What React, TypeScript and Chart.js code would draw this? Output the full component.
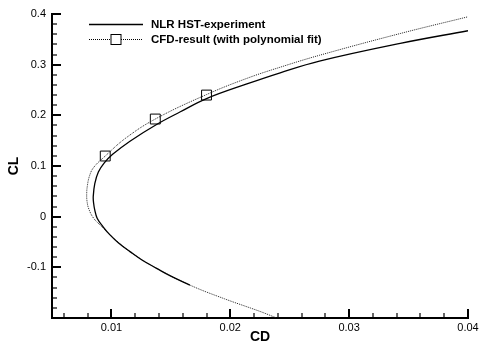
import React, { useEffect, useRef } from "react";
import { Chart, registerables } from "chart.js";

Chart.register(...registerables);

// NLR HST experiment (solid line)
const expCD = [0.0166, 0.0150, 0.0138, 0.0126, 0.01156, 0.0106, 0.00988, 0.0093, 0.0088, 0.0086, 0.0085, 0.00847, 0.0086, 0.0089, 0.0094, 0.0101, 0.01156, 0.0138, 0.0158, 0.0180, 0.0214, 0.0242, 0.0275, 0.0343, 0.0400];
const expCL = [-0.135, -0.1175, -0.102, -0.086, -0.069, -0.052, -0.036, -0.020, -0.003, 0.013, 0.027, 0.040, 0.065, 0.088, 0.106, 0.123, 0.149, 0.182, 0.207, 0.233, 0.262, 0.284, 0.307, 0.342, 0.367];

// CFD result with polynomial fit (dotted line)
const cfdCD = [0.0238, 0.0225, 0.0195, 0.0166, 0.0138, 0.01156, 0.00988, 0.0092, 0.0085, 0.0081, 0.00795, 0.00792, 0.00797, 0.00815, 0.0085, 0.00948, 0.0112, 0.01369, 0.0180, 0.0214, 0.0242, 0.0275, 0.0343, 0.0400];
const cfdCL = [-0.199, -0.187, -0.162, -0.135, -0.102, -0.069, -0.036, -0.020, -0.003, 0.015, 0.030, 0.045, 0.060, 0.080, 0.097, 0.1197, 0.155, 0.1927, 0.241, 0.273, 0.295, 0.3185, 0.3615, 0.3945];

// CFD computed points (square markers)
const cfdPointCD = [0.00948, 0.01369, 0.0180];
const cfdPointCL = [0.1197, 0.1927, 0.240];

const xTicks = [0.01, 0.02, 0.03, 0.04];
const xTickLabels = ["0.01", "0.02", "0.03", "0.04"];
const yTicks = [-0.1, 0, 0.1, 0.2, 0.3, 0.4];
const yTickLabels = ["-0.1", "0", "0.1", "0.2", "0.3", "0.4"];

const seriesNames = ["NLR HST-experiment", "CFD-result (with polynomial fit)"];
const xTitle = "CD";
const yTitle = "CL";

const FONT = '"Liberation Sans", Arial, Helvetica, sans-serif';

const toPoints = (xs: number[], ys: number[]) => xs.map((x, i) => ({ x, y: ys[i] }));

const axisTicksPlugin = {
  id: "axisTicks",
  afterDraw(chart: any) {
    const { ctx, chartArea } = chart;
    const xs = chart.scales.x;
    const ys = chart.scales.y;
    const { left, bottom } = chartArea;
    ctx.save();
    ctx.strokeStyle = "#000";
    const xMark = (v: number, len: number, w: number) => {
      const p = Math.round(xs.getPixelForValue(v));
      ctx.lineWidth = w;
      ctx.beginPath();
      ctx.moveTo(p, bottom);
      ctx.lineTo(p, bottom - len);
      ctx.stroke();
    };
    const yMark = (v: number, len: number, w: number) => {
      const p = Math.round(ys.getPixelForValue(v));
      ctx.lineWidth = w;
      ctx.beginPath();
      ctx.moveTo(left, p);
      ctx.lineTo(left + len, p);
      ctx.stroke();
    };
    const xStep = (xTicks[1] - xTicks[0]) / 5;
    for (let k = Math.ceil(xs.min / xStep - 1e-6); k <= Math.floor(xs.max / xStep + 1e-6); k++) {
      if (k % 5 !== 0) xMark(k * xStep, 5, 1.2);
    }
    xTicks.forEach((v) => xMark(v, 9, 2));
    const yStep = (yTicks[1] - yTicks[0]) / 5;
    for (let k = Math.ceil(ys.min / yStep - 1e-6); k <= Math.floor(ys.max / yStep + 1e-6); k++) {
      if (k % 5 !== 0) yMark(k * yStep, 5, 1.2);
    }
    yTicks.forEach((v) => yMark(v, 9, 2));
    ctx.restore();
  },
};

const legendPlugin = {
  id: "insideLegend",
  afterDraw(chart: any) {
    const { ctx } = chart;
    ctx.save();
    const x0 = 89;
    const x1 = 143;
    const tx = 151;
    const r1 = 24.5;
    const r2 = 39.5;
    ctx.strokeStyle = "#000";
    ctx.lineWidth = 1.3;
    ctx.beginPath();
    ctx.moveTo(x0, r1);
    ctx.lineTo(x1, r1);
    ctx.stroke();
    ctx.lineWidth = 1;
    ctx.setLineDash([1, 1]);
    ctx.beginPath();
    ctx.moveTo(x0, r2);
    ctx.lineTo(x1, r2);
    ctx.stroke();
    ctx.setLineDash([]);
    const cx = (x0 + x1) / 2;
    ctx.fillStyle = "#fff";
    ctx.fillRect(cx - 5, r2 - 5, 10, 10);
    ctx.strokeRect(cx - 5, r2 - 5, 10, 10);
    ctx.fillStyle = "#000";
    ctx.font = "bold 11.5px " + FONT;
    ctx.textBaseline = "middle";
    ctx.textAlign = "left";
    ctx.fillText(seriesNames[0], tx, r1);
    ctx.fillText(seriesNames[1], tx, r2);
    ctx.restore();
  },
};

export default function App() {
  const ref = useRef<HTMLCanvasElement | null>(null);

  useEffect(() => {
    if (!ref.current) return;
    const chart = new Chart(ref.current, {
      type: "scatter",
      data: {
        datasets: [
          {
            label: seriesNames[0],
            data: toPoints(expCD, expCL),
            showLine: true,
            borderColor: "#000",
            borderWidth: 1.3,
            pointRadius: 0,
            tension: 0.4,
            fill: false,
          },
          {
            label: seriesNames[1],
            data: toPoints(cfdCD, cfdCL),
            showLine: true,
            borderColor: "#222",
            borderWidth: 1,
            borderDash: [1, 1],
            pointRadius: 0,
            tension: 0.4,
            fill: false,
          },
          {
            label: seriesNames[1] + " points",
            data: toPoints(cfdPointCD, cfdPointCL),
            showLine: false,
            pointStyle: "rect",
            pointRadius: 7,
            pointBorderWidth: 1,
            pointBorderColor: "#000",
            pointBackgroundColor: "rgba(0,0,0,0)",
          },
        ],
      },
      options: {
        responsive: false,
        animation: false,
        devicePixelRatio: 1,
        layout: { padding: { left: 0, top: 14, right: 11, bottom: 0 } },
        plugins: {
          legend: { display: false },
          tooltip: { enabled: false },
        },
        scales: {
          x: {
            type: "linear",
            min: 0.005,
            max: 0.04,
            grid: { display: false, drawTicks: false, tickLength: 0 },
            border: { display: true, color: "#000", width: 2 },
            afterBuildTicks: (scale: any) => {
              scale.ticks = xTicks.map((v) => ({ value: v }));
            },
            afterFit: (scale: any) => {
              scale.height = 28;
              scale.paddingLeft = 0;
              scale.paddingRight = 0;
            },
            ticks: {
              padding: 3,
              color: "#000",
              maxRotation: 0,
              font: { family: FONT, size: 11 },
              callback: (_v: any, i: number) => xTickLabels[i],
            },
            title: {
              display: true,
              text: xTitle,
              color: "#000",
              font: { family: FONT, size: 14, weight: "bold" },
              padding: { top: 0, bottom: 0 },
            },
          },
          y: {
            type: "linear",
            min: -0.2,
            max: 0.4,
            grid: { display: false, drawTicks: false, tickLength: 0 },
            border: { display: true, color: "#000", width: 2 },
            afterBuildTicks: (scale: any) => {
              scale.ticks = yTicks.map((v) => ({ value: v }));
            },
            afterFit: (scale: any) => {
              scale.width = 52;
              scale.paddingTop = 0;
              scale.paddingBottom = 0;
            },
            ticks: {
              padding: 6,
              color: "#000",
              font: { family: FONT, size: 11 },
              callback: (_v: any, i: number) => yTickLabels[i],
            },
            title: {
              display: true,
              text: yTitle,
              color: "#000",
              font: { family: FONT, size: 14, weight: "bold" },
              padding: { top: 6, bottom: 0 },
            },
          },
        },
      },
      plugins: [axisTicksPlugin, legendPlugin],
    } as any);
    return () => chart.destroy();
  }, []);

  return (
    <div style={{ position: "fixed", left: 0, top: 0, width: 479, height: 346, background: "#fff" }}>
      <canvas ref={ref} width={479} height={346} style={{ width: 479, height: 346, display: "block" }} />
    </div>
  );
}
